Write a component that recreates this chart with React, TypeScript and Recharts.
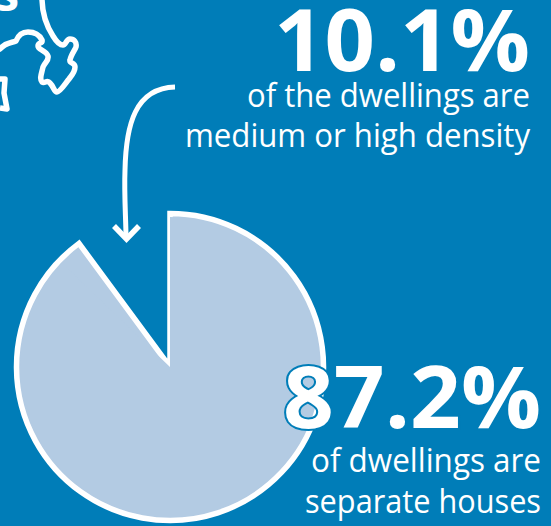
import React from "react";
import { PieChart, Pie, Cell } from "recharts";

const BACKGROUND = "#007db8";
const SLICE_FILL = "#b3cbe3";
const WHITE = "#ffffff";
const FONT = "'Open Sans', sans-serif";

// Share of dwellings, per cent
const separateHouses = 87.2;
const otherDwellings = 2.7;
const mediumHighDensity = 10.1;

const outlineSlices = [
  { name: "All other dwellings", value: separateHouses + otherDwellings },
  { name: "Medium or high density", value: mediumHighDensity },
];
const separateSlices = [
  { name: "Separate houses", value: separateHouses },
  { name: "Rest", value: otherDwellings + mediumHighDensity },
];

const COAST_NORTH =
  "M42 -2 C42 10 44 22 53 36 C56 41 60 45 63 45 C66 45 66 39 70 39 C74 39 77 42 76 47 C75 50 71 55 70 60 C69 64 75 62 75 67 C75 72 72 75 69 79 C65 84 60 92 57 92 C54 92 54 87 50 83 C47 79 45 84 42 82 C39 79 42 72 43 67 C45 62 49 61 48 56 C46 50 38 50 38 46 C38 42 43 44 42 40 C39 34 34 32 28 32 C22 32 18 36 16 41 C12 43 6 42 0 49";
const COAST_SOUTH = "M0 79 L5 79 L4 93 L7 109 L0 108";
const ARROW_STEM = "M175 87 C135 88 126 125 125 170 C124 195 126 220 126 238";
const ARROW_HEAD = "M114 226 L126.500 239 L139 226";

type LabelLine = { text: string; x: number; y: number; size: number; bold?: boolean; width: number };

const captions: LabelLine[] = [
  { text: "10.1%", x: 530, y: 71, size: 86, bold: true, width: 256 },
  { text: "of the dwellings are", x: 530, y: 107, size: 33, width: 283 },
  { text: "medium or high density", x: 530, y: 147, size: 33, width: 345 },
  { text: "of dwellings are", x: 541, y: 472, size: 33, width: 230 },
  { text: "separate houses", x: 541, y: 513, size: 33, width: 236 },
];

function Caption({ line }: { line: LabelLine }) {
  return (
    <text
      x={line.x}
      y={line.y}
      textAnchor="end"
      fontFamily={FONT}
      fontSize={line.size}
      fontWeight={line.bold ? 700 : 400}
      fill={WHITE}
      textLength={line.width}
      lengthAdjust="spacingAndGlyphs"
    >
      {line.text}
    </text>
  );
}

export default function App() {
  return (
    <div style={{ position: "absolute", left: 0, top: 0, width: 551, height: 526, background: BACKGROUND, overflow: "hidden" }}>
      <PieChart width={551} height={526} margin={{ top: 0, right: 0, bottom: 0, left: 0 }}>
        <Pie
          data={outlineSlices}
          dataKey="value"
          cx={170}
          cy={367}
          outerRadius={153.5}
          startAngle={90}
          endAngle={-270}
          stroke="none"
          isAnimationActive={false}
        >
          <Cell fill={SLICE_FILL} stroke={WHITE} strokeWidth={5.5} />
          <Cell fill="none" stroke="none" />
        </Pie>
        <Pie
          data={separateSlices}
          dataKey="value"
          cx={170}
          cy={367}
          outerRadius={150}
          startAngle={90}
          endAngle={-270}
          stroke="none"
          isAnimationActive={false}
        >
          <Cell fill={SLICE_FILL} />
          <Cell fill="none" />
        </Pie>
      </PieChart>

      {/* Annotations sit in their own layer above the pie */}
      <svg width={551} height={526} style={{ position: "absolute", left: 0, top: 0 }}>
        <path d={COAST_NORTH} fill="none" stroke={WHITE} strokeWidth={5.5} strokeLinejoin="round" strokeLinecap="round" />
        <path d={COAST_SOUTH} fill="none" stroke={WHITE} strokeWidth={5.5} strokeLinejoin="round" />
        <text x={19} y={11} textAnchor="end" fontFamily={FONT} fontSize={48} fontWeight={700} fill={WHITE}>s</text>

        <path d={ARROW_STEM} fill="none" stroke={WHITE} strokeWidth={5} />
        <path d={ARROW_HEAD} fill="none" stroke={WHITE} strokeWidth={5.5} />

        {captions.map((line) => (
          <Caption key={line.text} line={line} />
        ))}

        <text
          x={541}
          y={428}
          textAnchor="end"
          fontFamily={FONT}
          fontSize={86}
          fontWeight={700}
          fill={WHITE}
          stroke={BACKGROUND}
          strokeWidth={4}
          paintOrder="stroke"
          textLength={258}
          lengthAdjust="spacingAndGlyphs"
        >
          87.2%
        </text>
      </svg>
    </div>
  );
}
